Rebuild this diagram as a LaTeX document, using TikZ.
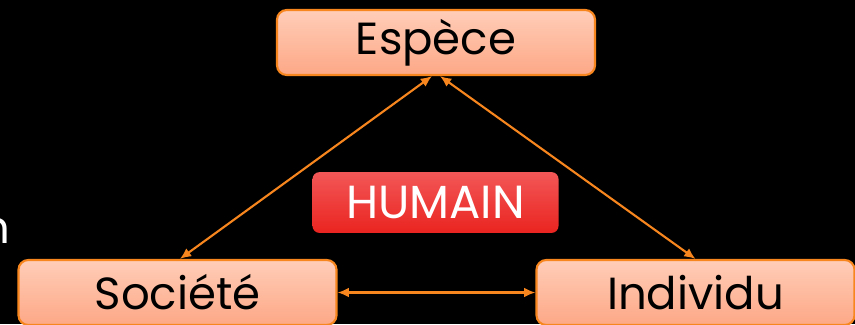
\documentclass[tikz,border=0pt]{standalone}
\usepackage{fontspec}
\setmainfont{Poppins}
\usepackage{tikz}
\usetikzlibrary{arrows.meta}

\definecolor{peachtop}{HTML}{FFCDB8}
\definecolor{peachbot}{HTML}{FDA886}
\definecolor{edgeorange}{HTML}{F7861F}
\definecolor{redtop}{HTML}{F25757}
\definecolor{redbot}{HTML}{EA2420}

\tikzset{
  concept/.style={draw=edgeorange, line width=1.5pt, rounded corners=7pt,
    top color=peachtop, bottom color=peachbot,
    minimum width=7.95cm, minimum height=1.625cm, inner sep=0pt,
    font=\fontsize{32}{38}\selectfont, text=black},
  tag/.style={rounded corners=5pt, top color=redtop, bottom color=redbot,
    minimum width=6.15cm, minimum height=1.52cm, inner sep=0pt,
    font=\fontsize{33}{38}\selectfont, text=white},
  link/.style={draw=edgeorange, line width=1.5pt,
    {Latex[length=8pt,width=7pt]}-{Latex[length=8pt,width=7pt]}}
}

\begin{document}
\begin{tikzpicture}[x=0.025cm, y=-0.025cm]
% background, fixes the size
\fill[black] (0,0) rectangle (855,324);
\useasboundingbox (0,0) rectangle (855,324);

% the three boxes
\node[concept] (espece) at (436,42.5) {Espèce};
\node[concept] (societe) at (177.5,292.5) {Société};
\node[concept] (individu) at (695.5,292.5) {Individu};

% centre label
\node[tag] (humain) at (435.5,202.5) {HUMAIN};

% cut off word on the left edge
\node[anchor=base east, inner sep=0pt, text=white,
  font=\fontsize{32}{38}\selectfont] (bord) at (11,243) {n};

% links
\draw[link] ([xshift=-0.1cm]espece.south) -- ([xshift=0.06cm]societe.north);
\draw[link] ([xshift=0.1cm]espece.south) -- (individu.north);
\draw[link] (societe.east) -- (individu.west);
\end{tikzpicture}
\end{document}
